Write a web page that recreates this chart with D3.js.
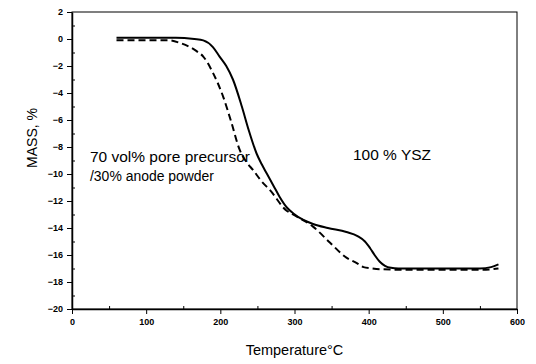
<!DOCTYPE html>
<meta charset="utf-8">
<style>
body { margin: 0; background: #fff; }
svg { font-family: "Liberation Sans", Arial, sans-serif; }
.axis path, .axis line { stroke: #000; }
.axis text { font-size: 9px; font-weight: bold; fill: #000; }
.minor text { display: none; }
.minor path { display: none; }
</style>
<svg width="536" height="364"></svg>
<script src="https://d3js.org/d3.v7.min.js"></script>
<script>

  // solid curve: 70 vol% pore precursor / 30% anode powder
  var solidT = [60, 100, 140, 165, 177, 190, 199, 208, 217, 229, 238, 249, 256, 263, 272, 280, 290, 298, 312, 325, 345, 370, 385, 395, 402, 408, 415, 422, 430, 440, 450, 500, 550, 565, 575];
  var solidM = [0.1, 0.1, 0.1, 0.0, -0.1, -0.6, -1.3, -2.0, -3.0, -5.0, -6.7, -8.5, -9.3, -10.0, -10.9, -11.7, -12.5, -12.9, -13.4, -13.7, -14.0, -14.3, -14.6, -15.0, -15.5, -16.0, -16.5, -16.8, -16.95, -17.0, -17.0, -17.0, -17.0, -16.9, -16.7];

  // dashed curve: 100 % YSZ
  var dashT = [60, 100, 130, 146, 159, 168, 177, 190, 204, 215, 226, 235, 244, 255, 267, 289, 298, 325, 348, 370, 384, 393, 405, 415, 450, 500, 550, 575];
  var dashM = [-0.1, -0.1, -0.1, -0.3, -0.6, -0.9, -1.3, -2.5, -4.3, -6.2, -8.2, -9.1, -9.7, -10.5, -11.2, -12.7, -13.0, -13.9, -15.1, -16.2, -16.6, -16.9, -17.0, -17.05, -17.1, -17.1, -17.1, -17.0];

  var xTicks = [0, 100, 200, 300, 400, 500, 600];
  var yTicks = [2, 0, -2, -4, -6, -8, -10, -12, -14, -16, -18, -20];

  var svg = d3.select("svg"),
      margin = {top: 12, right: 19, bottom: 55, left: 72},
      width = svg.attr("width") - margin.left - margin.right,
      height = svg.attr("height") - margin.top - margin.bottom;

  var x = d3.scaleLinear().domain([0, 600]).range([0, width]);
  var y = d3.scaleLinear().domain([-20, 2]).range([height, 0]);

  var g = svg.append("g")
    .attr("transform", "translate(" + margin.left + "," + margin.top + ")");

  // frame
  g.append("rect")
    .attr("width", width)
    .attr("height", height)
    .attr("fill", "none")
    .attr("stroke", "#000")
    .attr("stroke-width", 1);

  // minor ticks (inside)
  g.append("g")
    .attr("class", "axis minor")
    .attr("transform", "translate(0," + height + ")")
    .call(d3.axisBottom(x).tickValues(d3.range(50, 600, 100)).tickSize(-3));

  g.append("g")
    .attr("class", "axis minor")
    .call(d3.axisLeft(y).tickValues(d3.range(-19, 2, 2)).tickSize(-3));

  // major axes
  g.append("g")
    .attr("class", "axis axis--x")
    .attr("transform", "translate(0," + height + ")")
    .call(d3.axisBottom(x).tickValues(xTicks).tickSize(5).tickPadding(5).tickSizeOuter(0))
    .select(".domain").attr("stroke-width", 1.5);

  g.append("g")
    .attr("class", "axis axis--y")
    .call(d3.axisLeft(y).tickValues(yTicks).tickSize(5).tickPadding(4).tickSizeOuter(0))
    .select(".domain").attr("stroke-width", 1.5);

  // curves
  var line = d3.line()
    .x(function(d) { return x(d[0]); })
    .y(function(d) { return y(d[1]); })
    .curve(d3.curveMonotoneX);

  g.append("path")
    .datum(d3.zip(dashT, dashM))
    .attr("fill", "none")
    .attr("stroke", "#000")
    .attr("stroke-width", 2)
    .attr("stroke-dasharray", "7,4")
    .attr("d", line);

  g.append("path")
    .datum(d3.zip(solidT, solidM))
    .attr("fill", "none")
    .attr("stroke", "#000")
    .attr("stroke-width", 2)
    .attr("d", line);

  // annotations
  g.append("text")
    .attr("x", 18).attr("y", 150)
    .attr("font-size", 14)
    .attr("textLength", 160)
    .attr("lengthAdjust", "spacingAndGlyphs")
    .text("70 vol% pore precursor");

  g.append("text")
    .attr("x", 18).attr("y", 169)
    .attr("font-size", 14)
    .attr("textLength", 124)
    .attr("lengthAdjust", "spacingAndGlyphs")
    .text("/30% anode powder");

  g.append("text")
    .attr("x", 281).attr("y", 148)
    .attr("font-size", 14)
    .attr("textLength", 78)
    .attr("lengthAdjust", "spacingAndGlyphs")
    .text("100 % YSZ");

  // axis titles
  svg.append("text")
    .attr("x", margin.left + width / 2)
    .attr("y", 355)
    .attr("text-anchor", "middle")
    .attr("font-size", 14.5)
    .text("Temperature°C");

  svg.append("text")
    .attr("transform", "translate(37,138) rotate(-90)")
    .attr("text-anchor", "middle")
    .attr("font-size", 14)
    .text("MASS, %");
</script>
